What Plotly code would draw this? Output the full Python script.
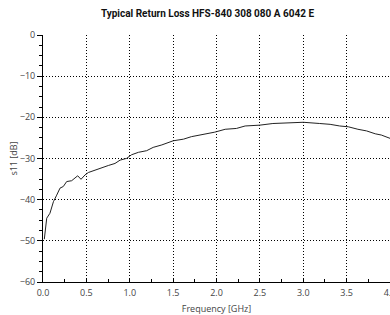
import plotly.graph_objects as go

freq_ghz = [0.015, 0.043, 0.08, 0.12, 0.158, 0.196, 0.234, 0.273, 0.33, 0.369, 0.40, 0.438,
            0.484, 0.523, 0.60, 0.677, 0.753, 0.83, 0.888, 0.965, 1.02, 1.10, 1.195, 1.27,
            1.37, 1.50, 1.62, 1.71, 1.87, 1.98, 2.10, 2.23, 2.33, 2.50, 2.65, 2.85, 3.0,
            3.19, 3.31, 3.42, 3.52, 3.63, 3.73, 3.83, 3.90, 4.0]
s11_db = [-49.6, -44.5, -43.3, -40.5, -38.9, -37.2, -36.8, -35.6, -35.4, -34.8, -34.2, -35.05,
          -34.0, -33.4, -32.8, -32.1, -31.7, -31.2, -30.4, -29.96, -29.1, -28.5, -28.1, -27.3,
          -26.7, -25.7, -25.3, -24.7, -24.1, -23.6, -22.9, -22.7, -22.1, -21.9, -21.5, -21.3, -21.2,
          -21.5, -21.7, -22.1, -22.3, -22.9, -23.3, -24.0, -24.3, -25.1]

title_text = "Typical Return Loss HFS-840 308 080 A 6042 E"
x_title = "Frequency [GHz]"
y_title = "s11 [dB]"

fig = go.Figure()
fig.add_trace(go.Scatter(x=freq_ghz, y=s11_db, mode="lines",
                         line=dict(color="#222222", width=1), showlegend=False))

fig.update_layout(
    width=390, height=315,
    margin=dict(l=43, r=0, t=35, b=33),
    paper_bgcolor="white", plot_bgcolor="white",
    font=dict(family="Open Sans", size=9, color="#444444"),
    title=dict(text="<b>" + title_text + "</b>", x=0.532, xanchor="center", y=0.958, yanchor="middle",
               font=dict(family="Roboto", size=10, color="#111111")),
)
fig.update_xaxes(
    range=[0, 4], tickvals=[0, 0.5, 1, 1.5, 2, 2.5, 3, 3.5, 4],
    ticktext=["0.0", "0.5", "1.0", "1.5", "2.0", "2.5", "3.0", "3.5", "4.0"],
    ticklabeloverflow="allow", ticklabelstandoff=2,
    showgrid=True, gridcolor="#000000", griddash="1px,2px", gridwidth=1,
    showline=True, linecolor="#000000", linewidth=1,
    ticks="inside", ticklen=4, tickcolor="#000000",
    minor=dict(dtick=0.25, ticks="inside", ticklen=3, tickcolor="#000000", showgrid=False),
    zeroline=False,
    title=dict(text=x_title, standoff=8, font=dict(size=9, color="#444444")),
    automargin=False,
)
fig.update_yaxes(
    range=[-60, 0], dtick=10,
    showgrid=True, gridcolor="#000000", griddash="1px,2px", gridwidth=1,
    showline=True, linecolor="#000000", linewidth=1,
    ticks="outside", ticklen=5, tickcolor="#000000",
    minor=dict(dtick=2.5, ticks="outside", ticklen=3, tickcolor="#000000", showgrid=False),
    zeroline=False,
    title=dict(text=y_title, standoff=0, font=dict(size=9, color="#444444")),
    automargin=False,
)

fig.write_html("out.html", config={"displayModeBar": False},
               post_script="document.body.style.margin='0';document.body.style.overflow='hidden';")
